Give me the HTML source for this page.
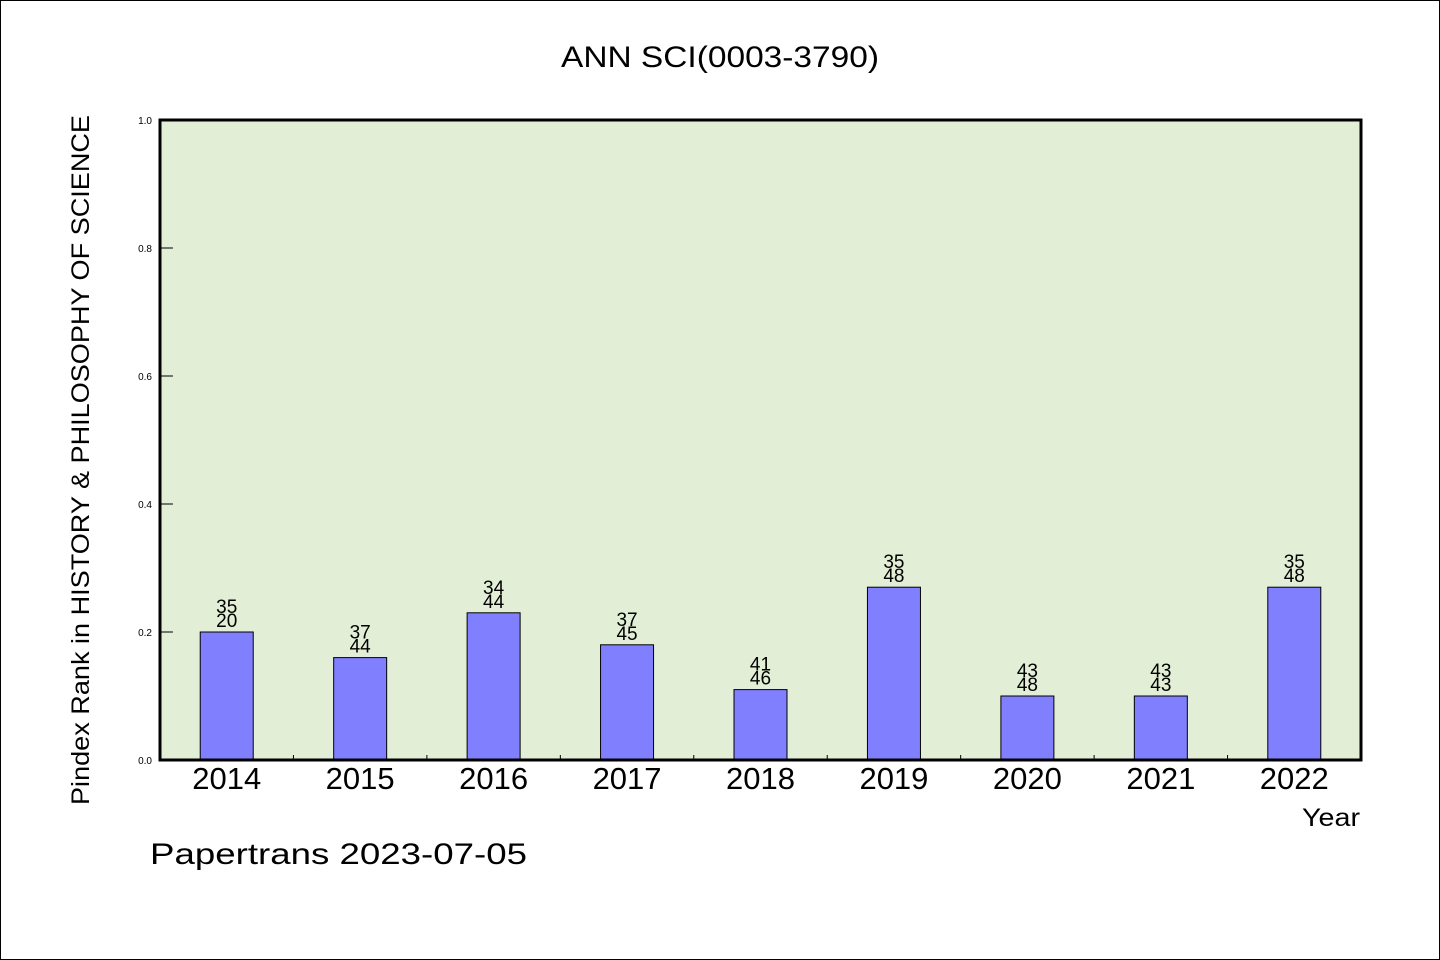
<!DOCTYPE html>
<html><head><meta charset="utf-8"><style>
html,body{margin:0;padding:0;background:#fff;}
svg{display:block;}
text{font-family:"WenQuanYi Zen Hei","Liberation Sans",sans-serif;fill:#000;}
</style></head><body>
<svg id="chart" width="1440" height="960" viewBox="0 0 1440 960">
<rect x="0.5" y="0.5" width="1439" height="959" fill="#fff" stroke="#000" stroke-width="1"/>
<text x="720" y="67" font-size="30" text-anchor="middle" textLength="318" lengthAdjust="spacingAndGlyphs">ANN SCI(0003-3790)</text>
<rect x="160" y="120" width="1201" height="640" fill="#e2efd6"/>
<g id="bars"></g>
<g id="axes"></g>
<rect x="160" y="120" width="1201" height="640" fill="none" stroke="#000" stroke-width="3"/>
<text transform="translate(89,460) rotate(-90)" font-size="25" text-anchor="middle" textLength="690" lengthAdjust="spacingAndGlyphs">Pindex Rank in HISTORY &amp; PHILOSOPHY OF SCIENCE</text>
<text x="1360" y="826" font-size="25" text-anchor="end" textLength="58" lengthAdjust="spacingAndGlyphs">Year</text>
<text x="150" y="864" font-size="30" textLength="377" lengthAdjust="spacingAndGlyphs">Papertrans 2023-07-05</text>
</svg>
<script>
const categories = ["2014","2015","2016","2017","2018","2019","2020","2021","2022"];
const values = [0.2,0.16,0.23,0.18,0.11,0.27,0.1,0.1,0.27];
const topLabels = ["35","37","34","37","41","35","43","43","35"];
const bottomLabels = ["20","44","44","45","46","48","48","43","48"];
const yTicks = [0,0.2,0.4,0.6,0.8,1.0];

const NS="http://www.w3.org/2000/svg";
const X0=160,X1=1361,Y0=760,Y1=120;
const band=(X1-X0)/categories.length;
function xCenter(i){return X0+band*(i+0.5);}
function yScale(v){return Y0-(Y0-Y1)*v;}
function mk(tag,attrs,parent){const e=document.createElementNS(NS,tag);for(const k in attrs)e.setAttribute(k,attrs[k]);parent.appendChild(e);return e;}
const gb=document.getElementById('bars'),ga=document.getElementById('axes');
const bw=53;
categories.forEach((c,i)=>{
  const cx=xCenter(i),y=yScale(values[i]);
  const r=mk('rect',{x:cx-bw/2,y:y,width:bw,height:Y0-y,fill:'#8080ff',stroke:'#000','stroke-width':1},gb);
  
  
  const t1=mk('text',{x:cx,y:y-19,'font-size':19,'text-anchor':'middle'},gb);t1.textContent=topLabels[i];
  
  
  const t2=mk('text',{x:cx,y:y-5,'font-size':19,'text-anchor':'middle'},gb);t2.textContent=bottomLabels[i];
  
  
  const xl=mk('text',{x:cx,y:789,'font-size':31,'text-anchor':'middle'},ga);xl.textContent=c;
  
  
  if(i>0){const tk=mk('line',{x1:X0+band*i,x2:X0+band*i,y1:Y0,y2:Y0-5,stroke:'#000','stroke-width':1},ga);
  
  }
});
yTicks.forEach(v=>{
  const y=yScale(v);
  const tk=mk('line',{x1:X0,x2:X0+13,y1:y,y2:y,stroke:'#000','stroke-width':1},ga);
  
  
  const tl=mk('text',{x:152,y:y+4,'font-size':10,'text-anchor':'end'},ga);tl.textContent=v.toFixed(1);
  
  
});
</script>
</body></html>
